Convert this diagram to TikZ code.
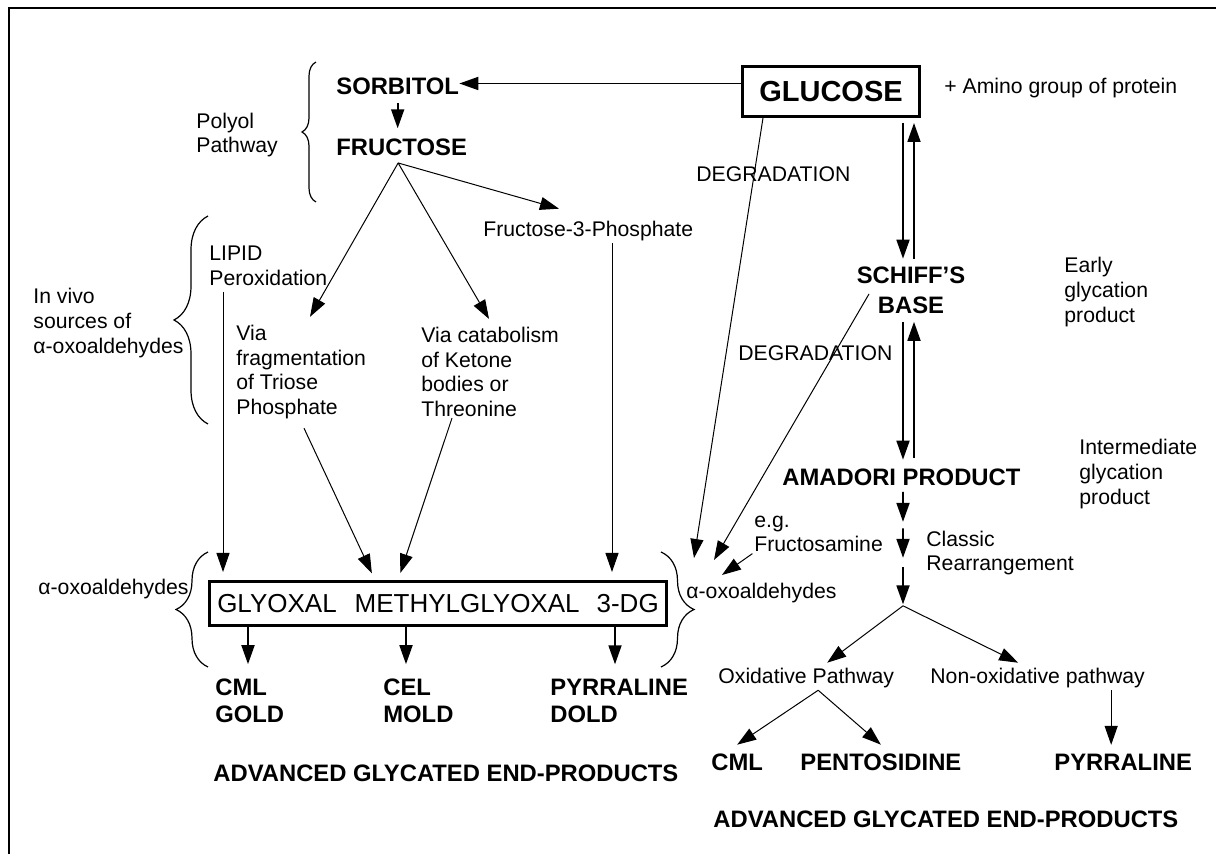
\documentclass[tikz,border=0pt]{standalone}
\usepackage{fontspec}
\setmainfont{Liberation Sans}
\usetikzlibrary{arrows.meta,calc,positioning,decorations.pathreplacing}

\begin{document}
\begin{tikzpicture}[>={Triangle[length=9.5pt,width=6.5pt]}, x=.5pt, y=-.5pt]
	\tikzset{lbl/.style={inner sep=0pt, align=left, font=\fontsize{10.6pt}{12.3pt}\selectfont},
		bld/.style={inner sep=0pt, align=left, font=\bfseries\fontsize{11.9pt}{13.5pt}\selectfont},
		fatbox/.style={draw, line width=1.5pt, inner sep=0pt},
		thinarr/.style={->, line width=.5pt},
		thickarr/.style={->, line width=.9pt},
		curly/.style={decorate, decoration={brace, amplitude=#1}, line width=.6pt},
	}
	\useasboundingbox (0,0) rectangle (1216,854);
	\draw[line width=1pt] (1216,8.5) -- (8.5,8.5) -- (8.5,854);
	
	\node [fatbox, minimum width=88.5pt, minimum height=25pt, font=\bfseries\fontsize{14.5pt}{17pt}\selectfont] (glucose) at (831,91.5) {GLUCOSE};
	\node [lbl, right=11.5pt of glucose, yshift=1.75pt] (amino) {+ Amino group of protein};
	\node [bld, anchor=west] (sorbitol) at (336,86.5) {SORBITOL};
	\node [bld, below=21.5pt of sorbitol.south west, anchor=north west] (fructose) {FRUCTOSE};
	\node [lbl, anchor=west] (polyol) at (196,135) {Polyol\\Pathway};
	\node [lbl, anchor=west] (f3p) at (483,231) {Fructose-3-Phosphate};
	\node [lbl, anchor=west] (lipid) at (209,266) {LIPID\\Peroxidation};
	\node [lbl, anchor=west] (invivo) at (33,323) {In vivo\\sources of\\α-oxoaldehydes};
	\node [lbl, anchor=west] (viafrag) at (236,372) {Via\\fragmentation\\of Triose\\Phosphate};
	\node [lbl, anchor=west] (viacat) at (421,372) {Via catabolism\\of Ketone\\bodies or\\Threonine};
	\node [lbl, anchor=west] (degra) at (696,174) {DEGRADATION};
	\node [bld, align=center, font=\bfseries\fontsize{11.9pt}{15pt}\selectfont] (schiff) at (911,290) {SCHIFF’S\\BASE};
	\node [lbl, anchor=west] (early) at (1064,292) {Early\\glycation\\product};
	\node [lbl, anchor=west] (degrb) at (738,353) {DEGRADATION};
	\node [bld, anchor=west] (amadori) at (782,477) {AMADORI PRODUCT};
	\node [lbl, anchor=west] (inter) at (1079,474) {Intermediate\\glycation\\product};
	\node [lbl, anchor=west] (eg) at (754,534) {e.g.\\Fructosamine};
	\node [lbl, anchor=west] (classic) at (926,553) {Classic\\Rearrangement};
	\node [fatbox, minimum width=228.5pt, minimum height=22pt, font=\fontsize{13pt}{15pt}\selectfont] (glybox) at (438,603.5) {GLYOXAL\hspace{9pt}METHYLGLYOXAL\hspace{8.5pt}3-DG};
	\node [lbl, anchor=west] (oxol) at (38,589) {α-oxoaldehydes};
	\node [lbl, anchor=west] (oxor) at (686,593) {α-oxoaldehydes};
	\node [bld, anchor=west] (cmll) at (215,700.5) {CML\\GOLD};
	\node [bld, anchor=west] (cel) at (383,700.5) {CEL\\MOLD};
	\node [bld, anchor=west] (pyrl) at (550,700.5) {PYRRALINE\\DOLD};
	\node [bld, anchor=west] (agel) at (213,773) {ADVANCED GLYCATED END-PRODUCTS};
	\node [lbl, anchor=west] (oxid) at (718,678) {Oxidative Pathway};
	\node [lbl, anchor=west] (nonox) at (930,678) {Non-oxidative pathway};
	\node [bld, anchor=west] (cmlr) at (711,762) {CML};
	\node [bld, anchor=west] (pento) at (800,762) {PENTOSIDINE};
	\node [bld, anchor=west] (pyrr) at (1054,762) {PYRRALINE};
	\node [bld, anchor=west] (ager) at (713,819) {ADVANCED GLYCATED END-PRODUCTS};
	
	\coordinate (fapex) at ([xshift=-1.75pt,yshift=-3.5pt]fructose.south);
	\coordinate (tipa) at (694,558);
	\coordinate (tipb) at (714,560);
	\coordinate (tipc) at (722,575);
	\coordinate (amtop) at ([xshift=-9pt]glucose.south east |- amadori.south);
	\coordinate (split) at ([yshift=-60pt]amtop);
	\coordinate (oxapex) at ([xshift=6pt,yshift=-1pt]oxid.south);
	
	\draw[curly=7pt] (316,202) -- (316,62);
	\draw[curly=17pt] (208,424) -- (208,216);
	\draw[curly=16pt] (208,667) -- (208,552);
	\draw[curly=16.5pt] (661,552) -- (661,667);
	
	\draw[thickarr] ([yshift=1.5pt]glucose.west |- sorbitol.east) -- ([yshift=1.5pt]sorbitol.east);
	\draw[thickarr, shorten <=4pt, shorten >=5pt] (sorbitol.south) -- (sorbitol.south |- fructose.north);
	\draw[thinarr] (fapex) -- ([xshift=38pt,yshift=6pt]f3p.north west);
	\draw[thinarr] (fapex) -- ([xshift=37pt,yshift=4pt]viafrag.north west);
	\draw[thinarr] (fapex) -- ([xshift=34pt,yshift=4pt]viacat.north west);
	\draw[thinarr, shorten <=1pt, shorten >=4pt] ([xshift=64.5pt]f3p.south west) -- ([xshift=64.5pt]f3p.south west |- glybox.north);
	\draw[thinarr, shorten <=3pt, shorten >=4pt] ([xshift=7pt]lipid.south west) -- ([xshift=7pt]lipid.south west |- glybox.north);
	\draw[thinarr, shorten >=3.7pt] ([xshift=34pt,yshift=-4.5pt]viafrag.south west) -- ([xshift=83.5pt]glybox.north west);
	\draw[thinarr, shorten >=3.7pt] ([xshift=15.5pt,yshift=-.5pt]viacat.south west) -- ([xshift=95pt]glybox.north west);
	\draw[thickarr, shorten >=7pt] ([xshift=20pt]glybox.south west) -- ([xshift=20pt]glybox.south west |- cmll.north);
	\draw[thickarr, shorten >=7pt] ([xshift=99pt]glybox.south west) -- ([xshift=99pt]glybox.south west |- cel.north);
	\draw[thickarr, shorten >=7pt] ([xshift=203.5pt]glybox.south west) -- ([xshift=203.5pt]glybox.south west |- pyrl.north);
	
	\draw[thickarr, shorten <=2.5pt, shorten >=3.75pt] ([xshift=-9pt]glucose.south east) -- ([xshift=-9pt]glucose.south east |- schiff.north);
	\draw[thickarr, shorten <=3.75pt, shorten >=2.5pt] ([xshift=-3.5pt]glucose.south east |- schiff.north) -- ([xshift=-3.5pt]glucose.south east);
	\draw[thickarr, shorten <=4pt, shorten >=4.25pt] ([xshift=-9pt]glucose.south east |- schiff.south) -- ([xshift=-9pt]glucose.south east |- amadori.north);
	\draw[thickarr, shorten <=5pt, shorten >=4pt] ([xshift=-3.5pt]glucose.south east |- amadori.north) -- ([xshift=-3.5pt]glucose.south east |- schiff.south);
	\draw[thickarr, shorten <=3pt] (amtop) -- ($(amtop)!.3!(split)$);
	\draw[thickarr] ($(amtop)!.355!(split)$) -- ($(amtop)!.6!(split)$);
	\draw[thickarr, shorten >=.75pt] ($(amtop)!.68!(split)$) -- (split);
	
	\draw[thinarr] ([xshift=-34pt]glucose.south) -- (tipa);
	\draw[thinarr] ([xshift=-21pt,yshift=-2pt]schiff.center) -- (tipb);
	\draw[thinarr, shorten <=1pt] (eg.south west) -- (tipc);
	
	\draw[thinarr] (split) -- ([xshift=10.5pt,yshift=2.5pt]oxid.north);
	\draw[thinarr] (split) -- ([xshift=-9.75pt,yshift=2.5pt]nonox.north);
	\draw[thinarr] (oxapex) -- ([yshift=4.25pt]cmlr.north);
	\draw[thinarr] (oxapex) -- ([yshift=4.25pt]pento.north);
	\draw[thinarr, shorten <=1pt, shorten >=4.25pt] ([xshift=-6pt]pyrr.north |- nonox.south) -- ([xshift=-6pt]pyrr.north);
\end{tikzpicture}
\end{document}
